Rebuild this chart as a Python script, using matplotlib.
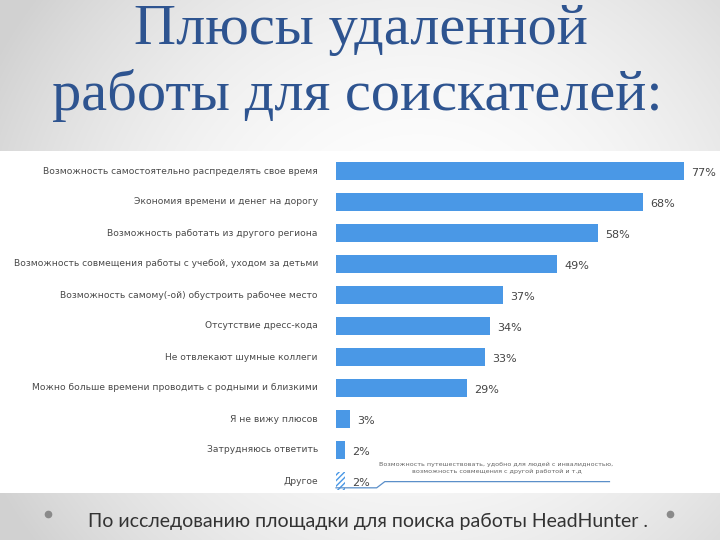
import numpy as np
import matplotlib
matplotlib.use("Agg")
import matplotlib.pyplot as plt
from matplotlib.patches import Rectangle

categories = [
    "Возможность самостоятельно распределять свое время",
    "Экономия времени и денег на дорогу",
    "Возможность работать из другого региона",
    "Возможность совмещения работы с учебой, уходом за детьми",
    "Возможность самому(-ой) обустроить рабочее место",
    "Отсутствие дресс-кода",
    "Не отвлекают шумные коллеги",
    "Можно больше времени проводить с родными и близкими",
    "Я не вижу плюсов",
    "Затрудняюсь ответить",
    "Другое",
]
values = [77, 68, 58, 49, 37, 34, 33, 29, 3, 2, 2]
title_lines = ["Плюсы удаленной", "работы для соискателей:"]
note = ("Возможность путешествовать, удобно для людей с инвалидностью,\n"
        "возможность совмещения с другой работой и т.д")
footer = "По исследованию площадки для поиска работы HeadHunter ."

W, H = 720, 540
fig = plt.figure(figsize=(7.2, 5.4), dpi=100)

# background gradient
bg = fig.add_axes([0, 0, 1, 1])
yy, xx = np.mgrid[0:H, 0:W]
dx = (xx - W * 0.58) / (W * 0.7)
dy = (yy - H * 0.5) / (H * 0.9)
r = np.sqrt(dx ** 2 + dy ** 2)
g = np.clip(1.0 - 0.2 * r ** 2, 0.82, 1.0)
bg.imshow(np.dstack([g, g, g]), extent=[0, W, H, 0], aspect="auto")
bg.set_xlim(0, W)
bg.set_ylim(H, 0)
bg.axis("off")
bg.add_patch(Rectangle((0, 151), W, 342, facecolor="white", edgecolor="none"))

# title
bg.text(361, 30, title_lines[0], ha="center", va="center",
        fontsize=42, family="Liberation Serif", color="#2e5490")
bg.text(357, 96, title_lines[1], ha="center", va="center",
        fontsize=42, family="Liberation Serif", color="#2e5490")

# footer
bg.text(368, 521, footer, ha="center", va="center", fontsize=14,
        family="Lato", color="#333333")
bg.plot([48, 670], [514, 514], "o", color="#8a8a8a", markersize=4.5, ls="none")

# chart
px_per = 4.52
left_px = 336
ax_left = left_px / W
ax_w = (W - left_px) / W
top_px = 171 - 15.5
bottom_px = 481 + 15.5
ax = fig.add_axes([ax_left, 1 - bottom_px / H, ax_w, (bottom_px - top_px) / H])
ax.set_xlim(0, (W - left_px) / px_per)
ax.set_ylim(len(values) - 0.5, -0.5)
ax.axis("off")
ax.patch.set_alpha(0)

blue = "#4a98e6"
for i, (c, v) in enumerate(zip(categories, values)):
    if c == "Другое":
        ax.barh(i, v, height=0.58, facecolor="white", edgecolor=blue,
                hatch="//////", linewidth=0)
    else:
        ax.barh(i, v, height=0.58, color=blue)
    ax.text(v + 1.6, i + 0.05, f"{v}%", ha="left", va="center",
            fontsize=8, color="#444444")
    ax.text(-4.0, i, c, ha="right", va="center", fontsize=6.6,
            color="#4a4a4a", clip_on=False)

# annotation line for "Другое"
ax.plot([0, 9.0, 10.8, 60.5], [10.22, 10.22, 10.02, 10.02],
        color="#5b8fc9", linewidth=0.9, clip_on=False)
ax.text(35.5, 9.58, note, ha="center", va="center", fontsize=4.6,
        color="#666666", linespacing=1.5)

fig.savefig("out.png", dpi=100)
